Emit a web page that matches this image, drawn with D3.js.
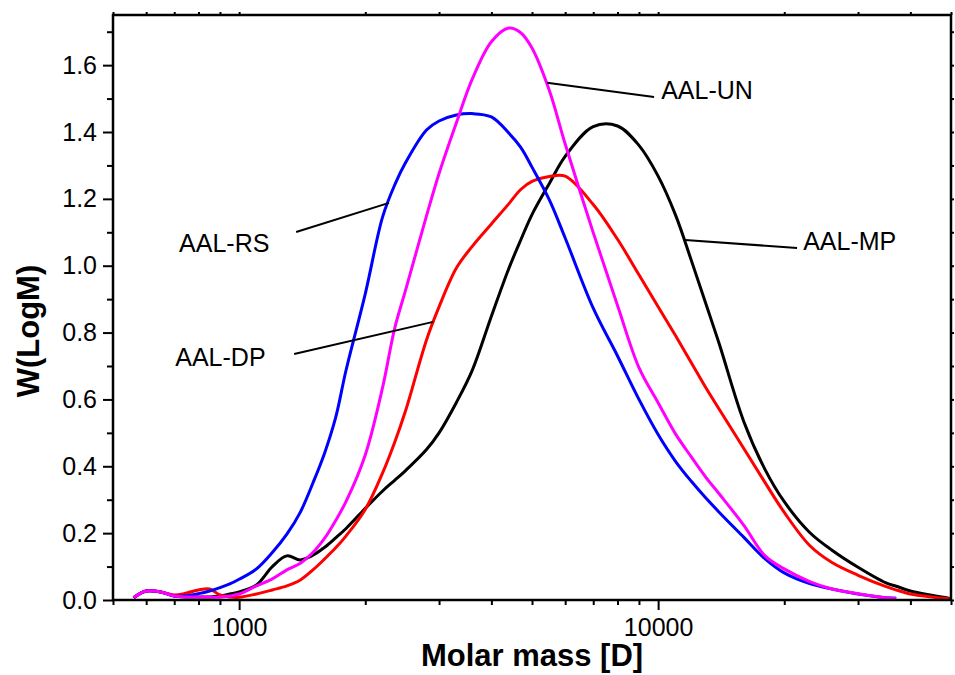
<!DOCTYPE html>
<html lang="en">
    <head>
        <meta charset="utf-8">
        <title>Molar mass distribution</title>
        <script src="https://d3js.org/d3.v7.min.js"></script>
        <style type="text/css">
            body{
              margin: 0;
              background: #fff;
            }
            svg{
              display: block;
              font-family: Arial, "Liberation Sans", sans-serif;
            }
            .tick text{
              font-size: 25px;
              fill: #000;
            }
            .tick line{
              stroke: #000;
              stroke-width: 2px;
            }
            .title{
              font-size: 31px;
              font-weight: bold;
            }
            .note{
              font-size: 25px;
            }
        </style>
    </head>
    <body>
        <script type="text/javascript">

        const w = 955;
        const h = 675;

        // molar mass grid [D] shared by the four samples
        const molarMass = [560, 600, 650, 700, 750, 800, 850, 900, 950, 1000,
                           1100, 1200, 1300, 1400, 1500, 1600, 1700, 1800, 2000, 2200,
                           2350, 2500, 2800, 3000, 3300, 3600, 4000, 4400, 4700, 5000,
                           5500, 6000, 7000, 8000, 9000, 10000, 11000, 12000, 13000, 14000,
                           16000, 18000, 20000, 23000, 26000, 30000, 35000, 37000, 40000, 45000,
                           50000];

        // W(LogM) per sample (null = no data)
        const wMP = [0.007, 0.027, 0.024, 0.012, 0.009, 0.009, 0.009, 0.012, 0.018, 0.024,
                     0.045, 0.100, 0.132, 0.120, 0.134, 0.158, 0.186, 0.214, 0.274, 0.326,
                     0.358, 0.388, 0.450, 0.500, 0.591, 0.687, 0.849, 0.991, 1.077, 1.153,
                     1.246, 1.327, 1.416, 1.418, 1.360, 1.268, 1.152, 1.016, 0.886, 0.765,
                     0.535, 0.390, 0.294, 0.202, 0.149, 0.098, 0.051, 0.041, 0.027, 0.014,
                     0.004];

        const wDP = [0.007, 0.027, 0.024, 0.015, 0.021, 0.030, 0.033, 0.015, 0.009, 0.008,
                     0.018, 0.030, 0.042, 0.060, 0.090, 0.123, 0.156, 0.192, 0.271, 0.380,
                     0.471, 0.569, 0.778, 0.877, 0.993, 1.058, 1.125, 1.185, 1.228, 1.252,
                     1.267, 1.268, 1.183, 1.079, 0.973, 0.877, 0.791, 0.710, 0.635, 0.570,
                     0.454, 0.351, 0.262, 0.163, 0.112, 0.074, 0.040, 0.030, 0.018, 0.009,
                     0.003];

        const wRS = [0.007, 0.027, 0.024, 0.012, 0.013, 0.019, 0.027, 0.037, 0.048, 0.062,
                     0.093, 0.142, 0.197, 0.263, 0.350, 0.440, 0.546, 0.688, 0.916, 1.146,
                     1.241, 1.310, 1.406, 1.433, 1.451, 1.455, 1.445, 1.397, 1.354, 1.295,
                     1.197, 1.083, 0.873, 0.730, 0.600, 0.495, 0.415, 0.355, 0.305, 0.262,
                     0.188, 0.123, 0.081, 0.049, 0.033, 0.018, 0.007, 0.005, null, null,
                     null];

        const wUN = [0.007, 0.027, 0.024, 0.012, 0.009, 0.009, 0.009, 0.008, 0.012, 0.018,
                     0.042, 0.063, 0.090, 0.110, 0.142, 0.185, 0.238, 0.295, 0.434, 0.636,
                     0.812, 0.930, 1.149, 1.276, 1.428, 1.558, 1.670, 1.711, 1.697, 1.651,
                     1.524, 1.364, 1.099, 0.881, 0.695, 0.590, 0.497, 0.428, 0.367, 0.317,
                     0.224, 0.132, 0.093, 0.055, 0.033, 0.019, 0.007, 0.005, null, null,
                     null];

        // axis ticks
        const xMajor = [1000, 10000];
        const xMinor = [500, 600, 700, 800, 900, 2000, 3000, 4000, 5000, 6000, 7000, 8000, 9000,
                        20000, 30000, 40000, 50000];
        const yMajor = [0, 0.2, 0.4, 0.6, 0.8, 1.0, 1.2, 1.4, 1.6];
        const yMinor = [0.1, 0.3, 0.5, 0.7, 0.9, 1.1, 1.3, 1.5, 1.7];

        // labels with leader lines, in data units: [text, textM, textW, fromM, fromW, toM, toW]
        const notes = [
          ["AAL-UN", 10170, 1.499, 5430, 1.547, 9780, 1.505],
          ["AAL-RS", 719, 1.041, 1368, 1.101, 2280, 1.188],
          ["AAL-DP", 704, 0.700, 1353, 0.736, 2904, 0.832],
          ["AAL-MP", 22190, 1.047, 11600, 1.077, 21460, 1.053]
        ];

        // draw order: last one on top
        const series = [
          {name: "AAL-MP", color: "#000000", vals: wMP},
          {name: "AAL-DP", color: "#ff0000", vals: wDP},
          {name: "AAL-RS", color: "#0000ff", vals: wRS},
          {name: "AAL-UN", color: "#ff00ff", vals: wUN}
        ];

        const x = d3.scaleLog().domain([500, 50000]).range([113, 951]);
        const y = d3.scaleLinear().domain([0, 1.75]).range([600, 15]);

        const svg = d3.select("body").append("svg")
                      .attr("width", w)
                      .attr("height", h);

        // curves
        const line = d3.line()
                       .defined(d => d.w != null)
                       .x(d => x(d.m))
                       .y(d => y(d.w))
                       .curve(d3.curveCatmullRom.alpha(0.5));

        svg.selectAll(".curve")
           .data(series)
           .enter()
           .append("path")
           .attr("class", "curve")
           .attr("fill", "none")
           .attr("stroke", d => d.color)
           .attr("stroke-width", 3)
           .attr("stroke-linejoin", "round")
           .attr("d", d => line(molarMass.map((m, i) => ({m: m, w: d.vals[i]}))));

        // bottom axis
        svg.append("g")
           .attr("transform", "translate(0,600)")
           .call(d3.axisBottom(x).tickValues(xMajor).tickSize(10).tickPadding(8).tickFormat(d3.format("d")))
           .call(g => g.select(".domain").remove());
        svg.append("g")
           .attr("transform", "translate(0,600)")
           .call(d3.axisBottom(x).tickValues(xMinor).tickSize(5).tickFormat(""))
           .call(g => g.select(".domain").remove());

        // top axis (ticks only)
        svg.append("g")
           .attr("transform", "translate(0,15)")
           .call(d3.axisTop(x).tickValues(xMajor.concat(xMinor)).tickSize(3).tickFormat(""))
           .call(g => g.select(".domain").remove());

        // left axis
        svg.append("g")
           .attr("transform", "translate(113,0)")
           .call(d3.axisLeft(y).tickValues(yMajor).tickSize(10).tickPadding(6).tickFormat(d3.format(".1f")))
           .call(g => g.select(".domain").remove());
        svg.append("g")
           .attr("transform", "translate(113,0)")
           .call(d3.axisLeft(y).tickValues(yMinor).tickSize(6).tickFormat(""))
           .call(g => g.select(".domain").remove());

        // right axis (ticks only)
        svg.append("g")
           .attr("transform", "translate(951,0)")
           .call(d3.axisRight(y).tickValues(yMajor.concat(yMinor)).tickSize(3).tickFormat(""))
           .call(g => g.select(".domain").remove());

        // frame
        svg.append("rect")
           .attr("x", x.range()[0])
           .attr("y", y.range()[1])
           .attr("width", x.range()[1] - x.range()[0])
           .attr("height", y.range()[0] - y.range()[1])
           .attr("fill", "none")
           .attr("stroke", "#000")
           .attr("stroke-width", 2.5);

        // axis titles
        svg.append("text")
           .attr("class", "title")
           .attr("x", (x.range()[0] + x.range()[1]) / 2)
           .attr("y", 666)
           .attr("text-anchor", "middle")
           .text("Molar mass [D]");

        svg.append("text")
           .attr("class", "title")
           .attr("transform", "translate(39,331) rotate(-90)")
           .attr("text-anchor", "middle")
           .text("W(LogM)");

        // leader lines and labels
        const ann = svg.selectAll(".ann")
           .data(notes)
           .enter()
           .append("g")
           .attr("class", "ann");

        ann.append("line")
           .attr("x1", d => x(d[3]))
           .attr("y1", d => y(d[4]))
           .attr("x2", d => x(d[5]))
           .attr("y2", d => y(d[6]))
           .attr("stroke", "#000")
           .attr("stroke-width", 2);

        ann.append("text")
           .attr("class", "note")
           .attr("x", d => x(d[1]))
           .attr("y", d => y(d[2]))
           .text(d => d[0]);

        </script>
    </body>
</html>
